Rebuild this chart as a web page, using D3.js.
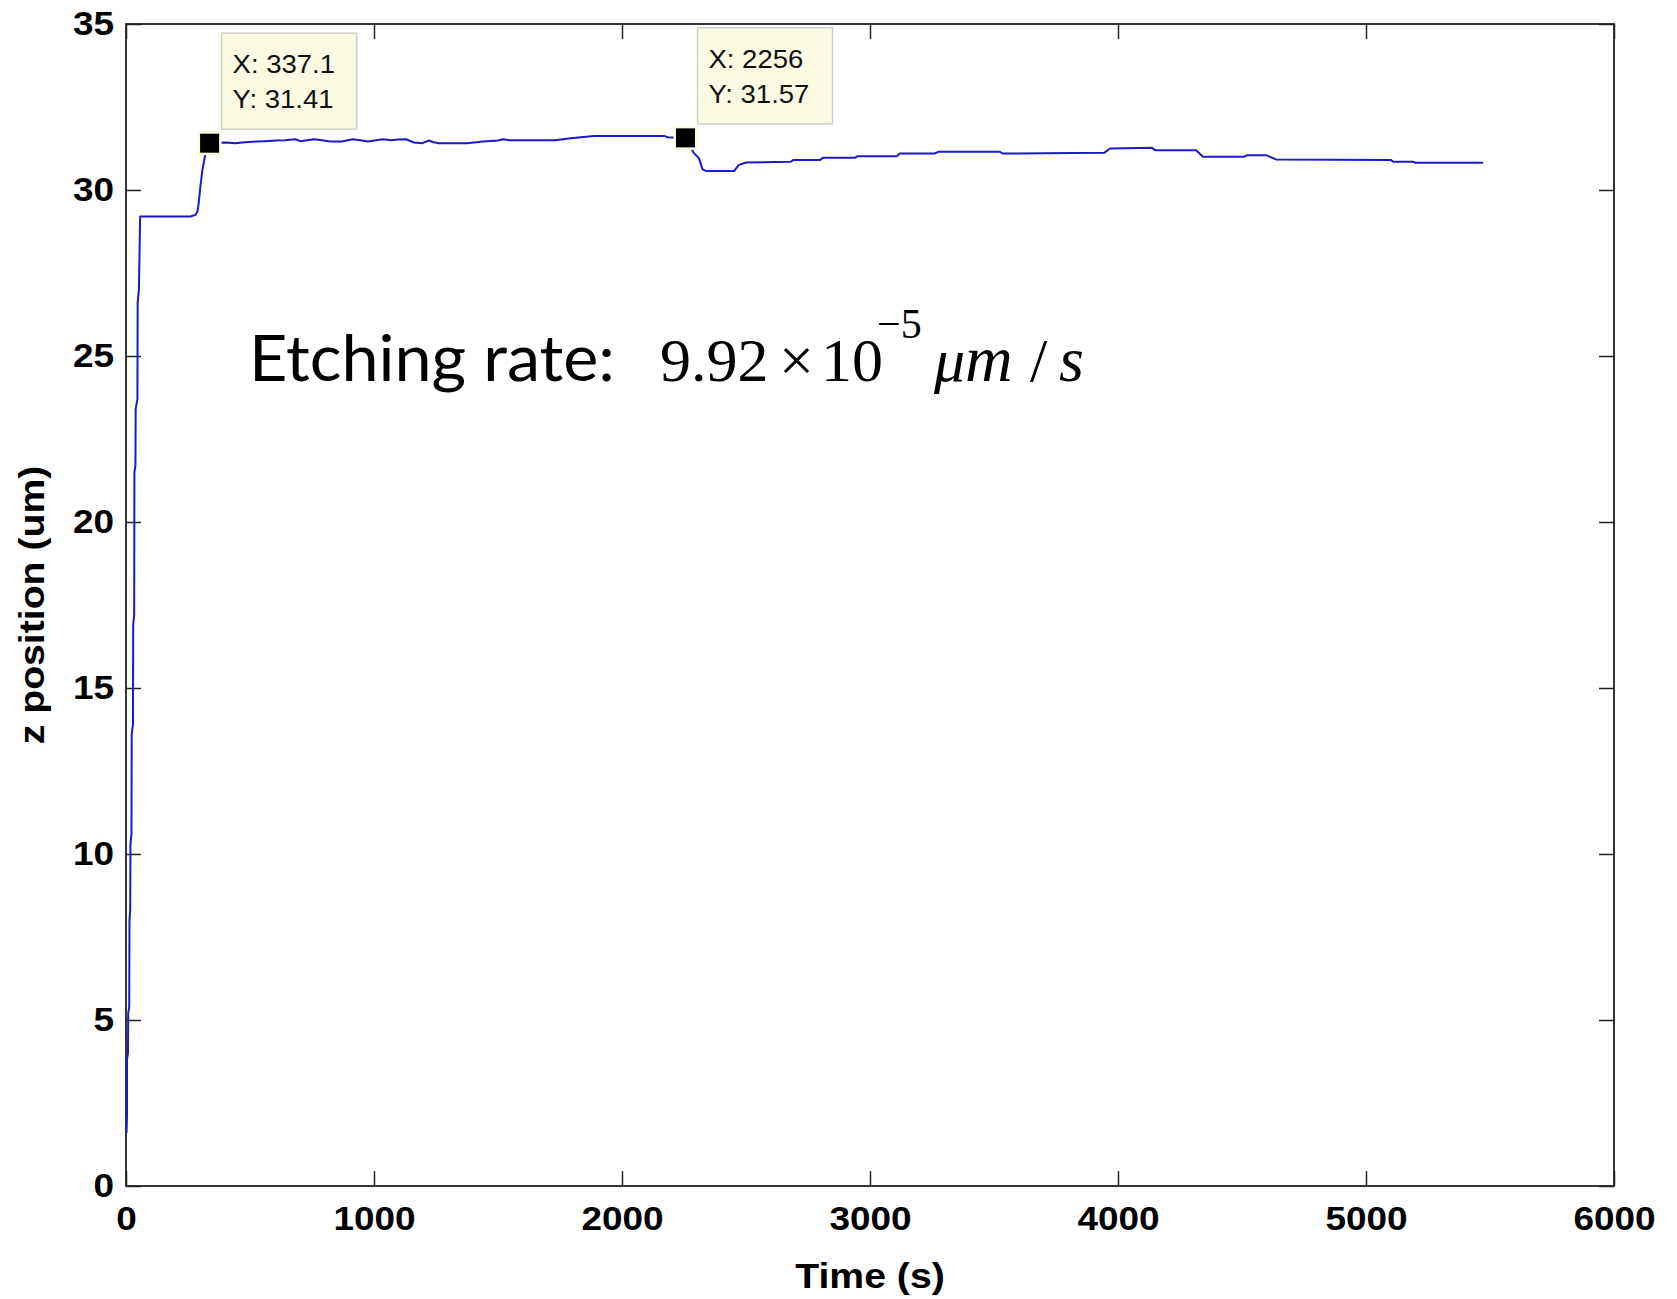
<!DOCTYPE html>
<html>
<head>
<meta charset="utf-8">
<script src="https://cdn.jsdelivr.net/npm/d3@7"></script>
<style>
  body { margin: 0; background: #ffffff; }
  svg { display: block; }
</style>
</head>
<body>
<svg id="chart" width="1677" height="1299"></svg>
<script>
// measured series: time (s) and z position (um)
var timeS = [2, 4, 4, 8, 9, 13, 14, 17, 18, 22, 23, 28, 29, 33, 34, 38, 39, 46, 47, 52, 55, 57,
  150, 260, 280, 288, 293, 300, 308, 318, 326, 337.1,
  370, 403, 440, 480, 528, 560, 605, 640, 682, 705, 730, 759, 790, 822, 870, 915, 945, 976,
  1010, 1036, 1070, 1097, 1129, 1161, 1195, 1222, 1240, 1262, 1375, 1440, 1500, 1520, 1545,
  1730, 1794, 1887, 2169, 2185, 2256,
  2290, 2310, 2325, 2340, 2452, 2470, 2500, 2681, 2690, 2798, 2810, 2939, 2950, 3109, 3120,
  3262, 3275, 3524, 3535, 3944, 3968, 4137, 4150, 4315, 4343, 4508, 4520, 4597, 4637, 5101,
  5110, 5190, 5200, 5472];
var zUm = [1.6, 2.1, 3.8, 4.0, 5.2, 5.4, 8.0, 8.3, 10.3, 10.6, 13.6, 13.9, 16.9, 17.2, 21.5, 21.7, 23.4, 23.7, 26.6, 27.0, 28.3, 29.2,
  29.2, 29.2, 29.25, 29.35, 29.6, 30.1, 30.6, 31.0, 31.25, 31.41,
  31.42, 31.43, 31.41, 31.44, 31.46, 31.47, 31.49, 31.5, 31.53, 31.47, 31.5, 31.53, 31.5, 31.46, 31.46, 31.53, 31.5, 31.46,
  31.5, 31.53, 31.5, 31.52, 31.53, 31.43, 31.41, 31.49, 31.44, 31.41, 31.41, 31.46, 31.49, 31.53, 31.5,
  31.5, 31.56, 31.63, 31.63, 31.59, 31.57,
  31.11, 30.96, 30.62, 30.57, 30.57, 30.75, 30.83, 30.85, 30.9, 30.9, 30.97, 30.97, 31.02, 31.02, 31.1,
  31.1, 31.15, 31.15, 31.1, 31.12, 31.25, 31.27, 31.2, 31.2, 31.0, 31.0, 31.05, 31.05, 30.92, 30.9,
  30.85, 30.85, 30.82, 30.82];

// data tips
var tipX = [337.1, 2256];
var tipY = [31.41, 31.57];
var tipLabelX = ["X: 337.1", "X: 2256"];
var tipLabelY = ["Y: 31.41", "Y: 31.57"];

// axes
var xTicks = [0, 1000, 2000, 3000, 4000, 5000, 6000];
var yTicks = [0, 5, 10, 15, 20, 25, 30, 35];
var xTitle = "Time (s)";
var yTitle = "z position (um)";

var margin = { top: 24, right: 63, bottom: 113, left: 126 };
var width = 1677;
var height = 1299;
var innerWidth = width - margin.left - margin.right;
var innerHeight = height - margin.top - margin.bottom;
var tickLen = 15;
var tickFont = "'Liberation Sans', Arial, Helvetica, sans-serif";
var stretch = 1.12; // matlab text in the picture is a little wide

var svg = d3.select("#chart");
var g = svg.append("g")
  .attr("transform", `translate(${margin.left},${margin.top})`);

var x = d3.scaleLinear().domain([0, 6000]).range([0, innerWidth]);
var y = d3.scaleLinear().domain([0, 35]).range([innerHeight, 0]);

// style a d3 axis group like matlab
function styleAxis(sel) {
  sel.select(".domain").remove();
  sel.selectAll(".tick line")
    .attr("stroke", "#222")
    .attr("stroke-width", 1.5);
  sel.selectAll(".tick text")
    .attr("fill", "#000")
    .style("font-family", tickFont)
    .style("font-weight", "bold")
    .style("font-size", "33px");
}

// bottom + left axes with labels, ticks pointing inward
g.append("g")
  .attr("transform", `translate(0,${innerHeight})`)
  .call(d3.axisBottom(x).tickValues(xTicks).tickSizeInner(-tickLen).tickSizeOuter(0).tickPadding(21).tickFormat(d3.format("d")))
  .call(styleAxis)
  .call(a => a.selectAll(".tick text").attr("transform", `scale(${stretch},1)`));

g.append("g")
  .call(d3.axisLeft(y).tickValues(yTicks).tickSizeInner(-tickLen).tickSizeOuter(0).tickPadding(12).tickFormat(d3.format("d")))
  .call(styleAxis)
  .call(a => a.selectAll(".tick text").attr("x", 0).attr("transform", `translate(-12,0) scale(${stretch},1)`));

// top + right axes, ticks only
g.append("g")
  .call(d3.axisTop(x).tickValues(xTicks).tickSizeInner(-tickLen).tickSizeOuter(0))
  .call(styleAxis)
  .call(a => a.selectAll(".tick text").remove());

g.append("g")
  .attr("transform", `translate(${innerWidth},0)`)
  .call(d3.axisRight(y).tickValues(yTicks).tickSizeInner(-tickLen).tickSizeOuter(0))
  .call(styleAxis)
  .call(a => a.selectAll(".tick text").remove());

// frame
g.append("rect")
  .attr("width", innerWidth)
  .attr("height", innerHeight)
  .attr("fill", "none")
  .attr("stroke", "#222")
  .attr("stroke-width", 1.8);

// axis titles
svg.append("text")
  .attr("transform", `translate(${margin.left + innerWidth / 2},1288) scale(${stretch},1)`)
  .attr("text-anchor", "middle")
  .style("font-family", tickFont)
  .style("font-weight", "bold")
  .style("font-size", "35px")
  .text(xTitle);

svg.append("text")
  .attr("transform", `translate(44,${margin.top + innerHeight / 2}) rotate(-90) scale(${stretch},1)`)
  .attr("text-anchor", "middle")
  .style("font-family", tickFont)
  .style("font-weight", "bold")
  .style("font-size", "35px")
  .text(yTitle);

// the series
var series = timeS.map((t, i) => ({ t: t, z: zUm[i] }));
var line = d3.line()
  .x(d => x(d.t))
  .y(d => y(d.z))
  .curve(d3.curveLinear);

g.append("path")
  .datum(series)
  .attr("fill", "none")
  .attr("stroke", "#1a1ac8")
  .attr("stroke-width", 2)
  .attr("stroke-linejoin", "round")
  .attr("d", line);

// data tips: marker + yellow label box
var tips = g.selectAll("g.tip")
  .data(tipX.map((t, i) => ({ t: t, z: tipY[i], lx: tipLabelX[i], ly: tipLabelY[i] })))
  .enter().append("g")
  .attr("class", "tip")
  .attr("transform", d => `translate(${x(d.t)},${y(d.z)})`);

tips.append("rect")
  .attr("x", 12).attr("y", -110)
  .attr("width", 135).attr("height", 96)
  .attr("fill", "#fbfbe4")
  .attr("stroke", "#cfcfc4")
  .attr("stroke-width", 1.5);

tips.append("text")
  .attr("transform", "translate(23,-70) scale(1.1,1)")
  .style("font-family", tickFont)
  .style("font-size", "25px")
  .attr("fill", "#111")
  .text(d => d.lx);

tips.append("text")
  .attr("transform", "translate(23,-35) scale(1.1,1)")
  .style("font-family", tickFont)
  .style("font-size", "25px")
  .attr("fill", "#111")
  .text(d => d.ly);

tips.append("rect")
  .attr("x", -12).attr("y", -12)
  .attr("width", 24).attr("height", 24)
  .attr("fill", "#fbfbe0");

tips.append("rect")
  .attr("x", -9.5).attr("y", -9.5)
  .attr("width", 19).attr("height", 19)
  .attr("fill", "#000");

// etching rate annotation
svg.append("text")
  .attr("x", 249)
  .attr("y", 381)
  .attr("textLength", 366)
  .attr("lengthAdjust", "spacingAndGlyphs")
  .style("font-family", "Lato, 'Open Sans', sans-serif")
  .style("font-size", "64px")
  .attr("fill", "#000")
  .text("Etching rate:");

var formula = svg.append("text")
  .attr("y", 381)
  .style("font-family", "'Liberation Serif', 'Times New Roman', serif")
  .style("font-size", "62px")
  .attr("fill", "#000");
formula.append("tspan").attr("x", 660).text("9.92");
formula.append("tspan").attr("x", 779).text("×");
formula.append("tspan").attr("x", 821).text("10");
formula.append("tspan").attr("x", 877).attr("y", 338).style("font-size", "42px").text("−5");
formula.append("tspan").attr("x", 934).attr("y", 381).style("font-style", "italic").text("μ");
formula.append("tspan").attr("x", 965).style("font-style", "italic").style("font-size", "66px").text("m");
formula.append("tspan").attr("x", 1030).text("/");
formula.append("tspan").attr("x", 1059).style("font-style", "italic").style("font-size", "64px").text("s");
</script>
</body>
</html>
